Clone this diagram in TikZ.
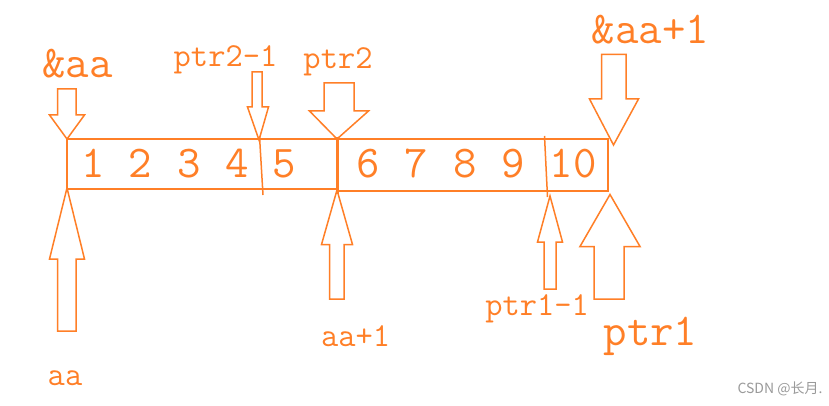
\documentclass[tikz,border=0pt]{standalone}
\usepackage{fontspec}
\newfontfamily\wmfont{Noto Sans CJK SC}
\definecolor{paintorange}{HTML}{FF7F27}
\definecolor{wmgray}{HTML}{9A9A9A}
\newcommand\blkarrow[8]{% tipx tipy wingy wingL wingR shaftL shaftR end
  \draw[outl] (#6,#8) -- (#7,#8) -- (#7,#3) -- (#5,#3) -- (#1,#2) -- (#4,#3) -- (#6,#3) -- cycle;}
\begin{document}
\begin{tikzpicture}[x=1pt,y=-1pt,
  outl/.style={draw=paintorange, line width=1.5pt, line join=miter, miter limit=4},
  big/.style={text=paintorange, font=\ttfamily\fontsize{45.5}{45.5}\selectfont, inner sep=0pt, anchor=base},
  mid/.style={text=paintorange, font=\ttfamily\fontsize{33.5}{33.5}\selectfont, inner sep=0pt, anchor=base}]
\useasboundingbox (0,0) rectangle (829,406);
\fill[white] (0,0) rectangle (829,406);

% boxes
\draw[outl] (67,139) rectangle (337,189);
\draw[outl] (337,139) rectangle (608,191);
\draw[draw=paintorange, line width=3pt] (337,137) -- (337,194);
% dividers
\draw[outl] (259.5,136) -- (263,195);
\draw[outl] (544.5,136) -- (547.5,197);

% down arrows
\blkarrow{67}{139}{115}{49.5}{84.5}{57.5}{76}{89}
\blkarrow{259}{140}{107}{247.5}{268.5}{252}{262}{72}
\blkarrow{337}{139}{111}{309.5}{368.5}{324}{354}{83}
\blkarrow{613.5}{145}{99}{589.5}{638.5}{601.7}{626}{54.5}
% up arrows
\blkarrow{67}{188}{259}{49.5}{84.5}{57.5}{76}{331}
\blkarrow{337}{190}{244.5}{321.5}{352.5}{329.5}{344}{299}
\blkarrow{550}{196}{242}{537.5}{562.5}{544}{556}{289}
\blkarrow{610}{194.5}{246.5}{580}{640}{594}{624}{299}

% digits
\node[big] (d1) at (93,178) {1};
\node[big] (d2) at (140,178) {2};
\node[big] (d3) at (189,178) {3};
\node[big] (d4) at (237,178) {4};
\node[big] (d5) at (284,178) {5};
\node[big] (d6) at (368,178) {6};
\node[big] (d7) at (416.5,178) {7};
\node[big] (d8) at (465,178) {8};
\node[big] (d9) at (513,178) {9};
\node[big] (d10) at (573,178) {10};

% labels
\node[big] (laa) at (77.5,78) {\&aa};
\node[mid] (lp21) at (225.5,67) {ptr2-1};
\node[mid] (lp2) at (338,69) {ptr2};
\node[big] (laa1) at (650.5,43.5) {\&aa+1};
\node[mid] (lda) at (65,385) {aa};
\node[mid] (ldaa1) at (355.5,346.5) {aa+1};
\node[mid] (lp11) at (537,315) {ptr1-1};
\node[big] (lp1) at (650.5,345) {ptr1};

\node[text=wmgray, font=\wmfont\fontsize{14}{14}\selectfont, inner sep=0pt, anchor=base] (wm) at (780,393) {CSDN @长月.};
\end{tikzpicture}
\end{document}
